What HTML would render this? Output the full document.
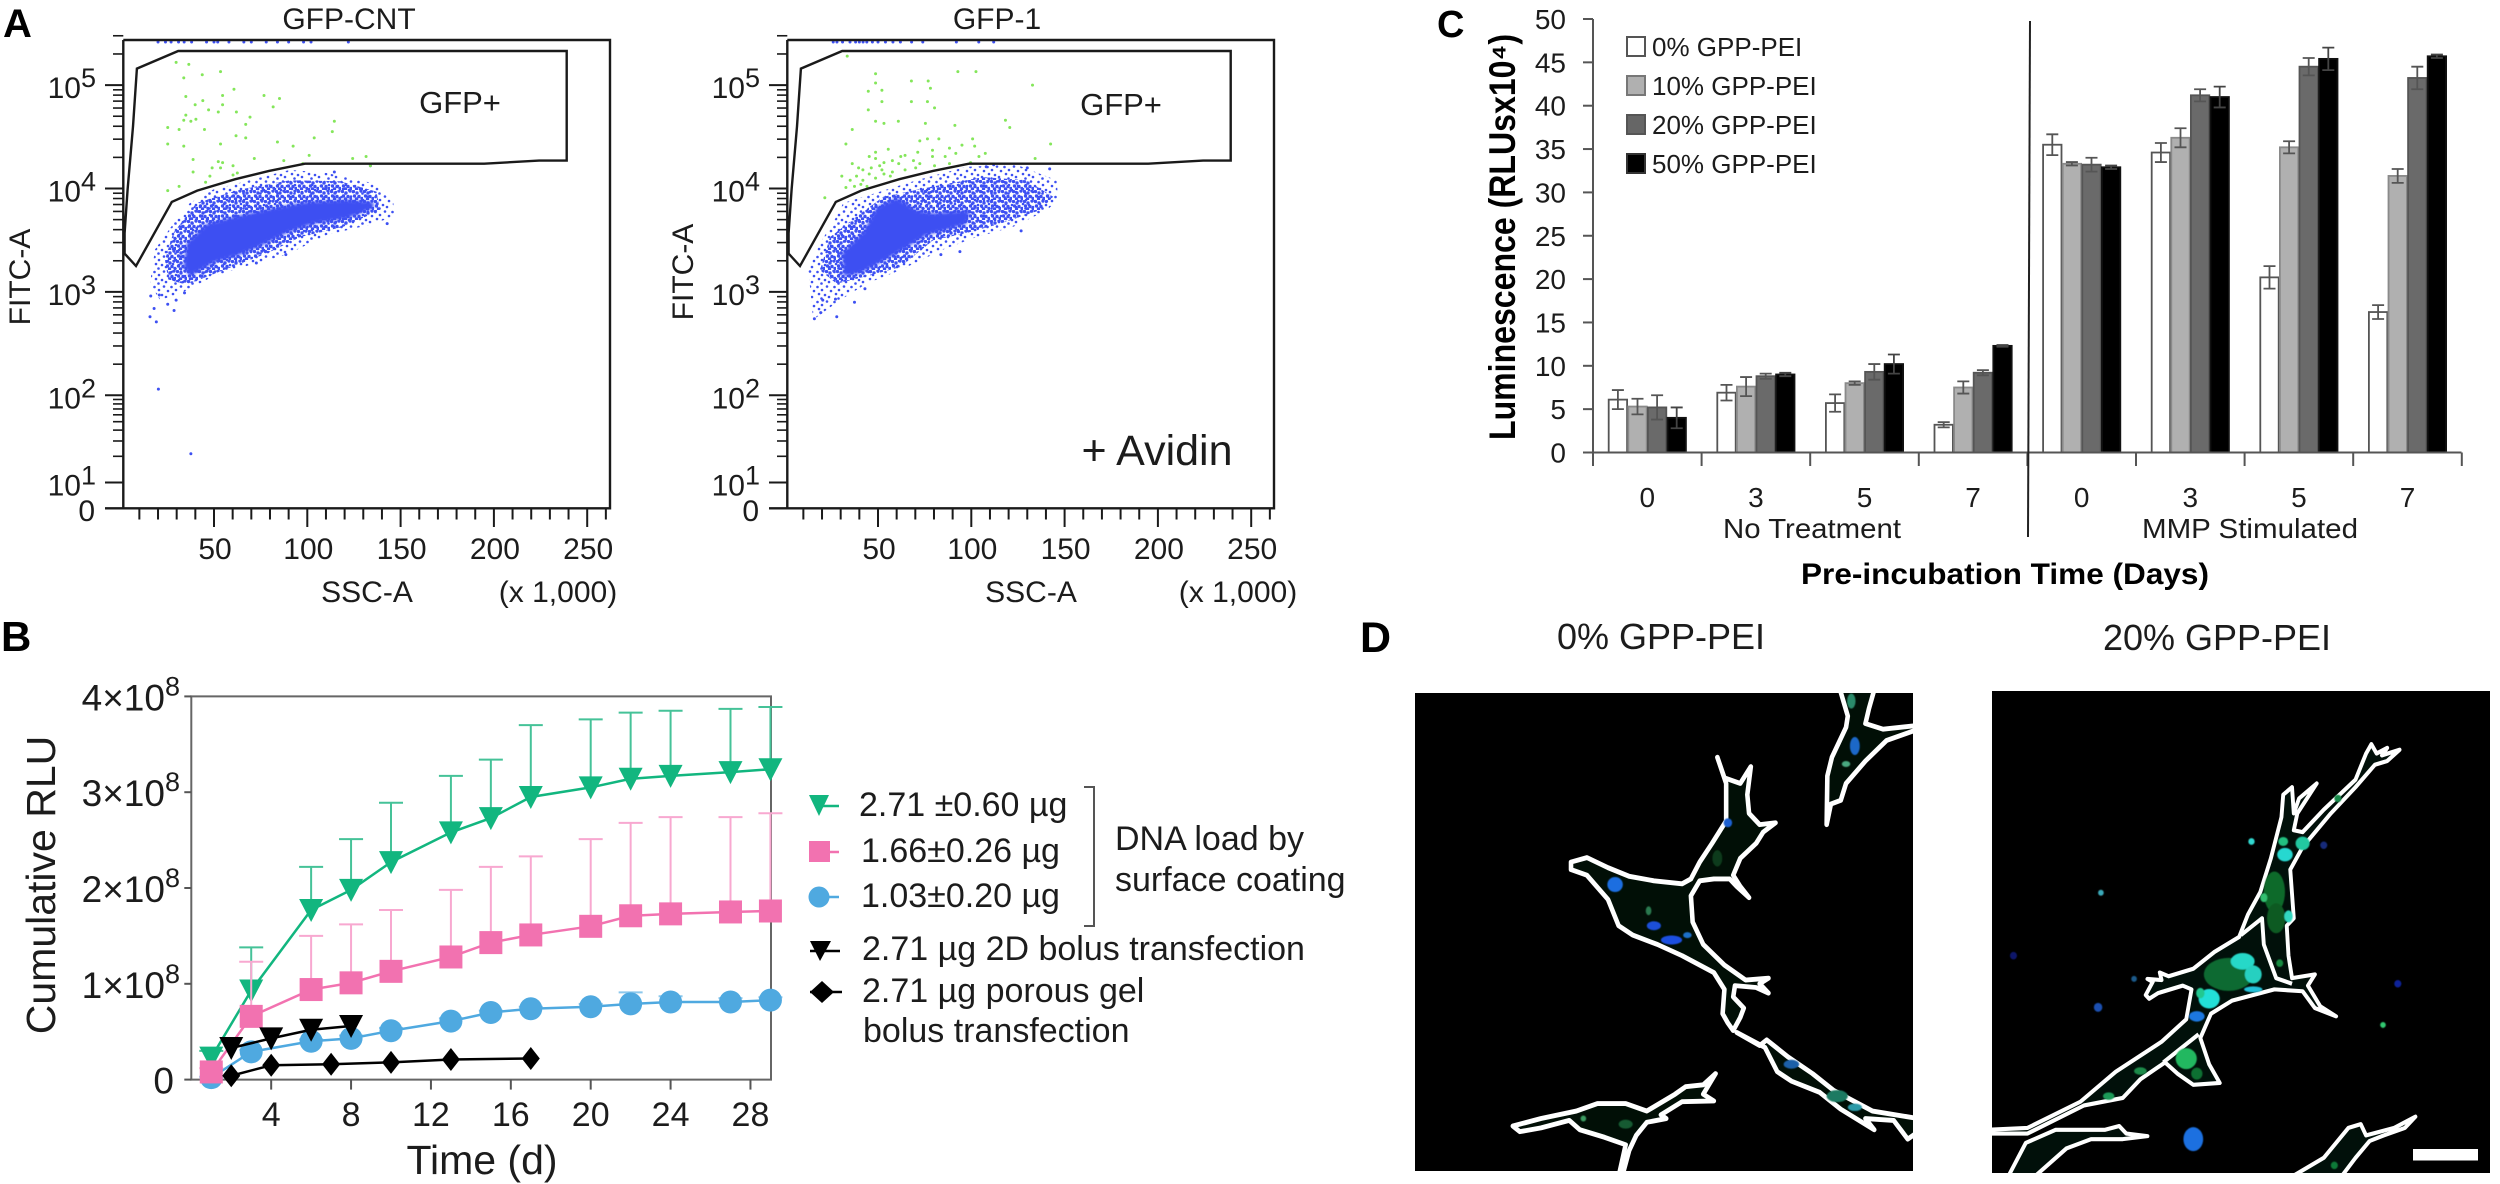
<!DOCTYPE html>
<html lang="en">
<head>
<meta charset="utf-8">
<title>GFP-PEI transfection figure</title>
<style>
html,body{margin:0;padding:0;background:#fff;}
svg{display:block;}
text{font-family:"Liberation Sans",sans-serif;fill:#1c1c1c;}
.bold{font-weight:bold;fill:#000;}
</style>
</head>
<body>
<svg id="fig" xmlns="http://www.w3.org/2000/svg" width="2500" height="1184" viewBox="0 0 2500 1184">
<defs>
<pattern id="speckle" width="17" height="15" patternUnits="userSpaceOnUse">
<circle cx="1.5" cy="2" r="1.3" fill="#3d50f2"/><circle cx="6" cy="5" r="1.3" fill="#3d50f2"/><circle cx="11" cy="1.5" r="1.3" fill="#3d50f2"/><circle cx="15" cy="6" r="1.3" fill="#3d50f2"/><circle cx="3" cy="9" r="1.3" fill="#3d50f2"/><circle cx="9" cy="10" r="1.3" fill="#3d50f2"/><circle cx="13" cy="12" r="1.3" fill="#3d50f2"/><circle cx="5.5" cy="13.5" r="1.3" fill="#3d50f2"/>
</pattern>
<pattern id="speckle-dense" width="11" height="10" patternUnits="userSpaceOnUse">
<circle cx="1.5" cy="1.5" r="1.7" fill="#3d50f2"/><circle cx="5" cy="3" r="1.7" fill="#3d50f2"/><circle cx="9" cy="1" r="1.7" fill="#3d50f2"/><circle cx="2.5" cy="6" r="1.7" fill="#3d50f2"/><circle cx="7" cy="6.5" r="1.7" fill="#3d50f2"/><circle cx="10" cy="8.5" r="1.7" fill="#3d50f2"/><circle cx="4.5" cy="9" r="1.7" fill="#3d50f2"/>
</pattern>
<clipPath id="clip-d1"><rect x="1415" y="693" width="498" height="478"/></clipPath>
<clipPath id="clip-d2"><rect x="1992" y="691" width="498" height="482"/></clipPath>
<filter id="soft" x="-10%" y="-10%" width="120%" height="120%"><feGaussianBlur stdDeviation="1.6"/></filter>
</defs>

<rect width="2500" height="1184" fill="#fff"/>

<text class="bold" x="3" y="37" font-size="40">A</text>
<text class="bold" x="1" y="651" font-size="42">B</text>
<text class="bold" x="1437" y="37" font-size="38">C</text>
<text class="bold" x="1360" y="652" font-size="43">D</text>

<!-- Panel A labels -->
<text x="349" y="29" font-size="30" text-anchor="middle">GFP-CNT</text>
<text x="997" y="29" font-size="30" text-anchor="middle">GFP-1</text>
<text x="460" y="113" font-size="31" text-anchor="middle">GFP+</text>
<text x="1121" y="115" font-size="31" text-anchor="middle">GFP+</text>
<text x="1157" y="465" font-size="43" text-anchor="middle">+ Avidin</text>
<text transform="translate(30,277) rotate(-90)" font-size="30" text-anchor="middle">FITC-A</text>
<text transform="translate(693,272) rotate(-90)" font-size="30" text-anchor="middle">FITC-A</text>
<text x="367" y="602" font-size="30" text-anchor="middle">SSC-A</text>
<text x="558" y="602" font-size="30" text-anchor="middle">(x 1,000)</text>
<text x="1031" y="602" font-size="30" text-anchor="middle">SSC-A</text>
<text x="1238" y="602" font-size="30" text-anchor="middle">(x 1,000)</text>

<g id="flow-left"></g>
<g id="flow-right"></g>

<!-- Panel B -->
<text transform="translate(55,885) rotate(-90)" font-size="41" text-anchor="middle">Cumulative RLU</text>
<text x="482" y="1174" font-size="41" text-anchor="middle">Time (d)</text>
<g id="line-chart"></g>

<g>
<g>
<line x1="820" y1="806" x2="839" y2="806" stroke="#12b67f" stroke-width="2.5"/>
<polygon points="809,795 829,795 819,816" fill="#12b67f"/>
<text x="859" y="816" font-size="34">2.71 ±0.60 µg</text></g>
<g>
<line x1="820" y1="852" x2="839" y2="852" stroke="#f272b0" stroke-width="2.5"/>
<rect x="809" y="841" width="21" height="21" fill="#f272b0"/>
<text x="861" y="862" font-size="34">1.66±0.26 µg</text></g>
<g>
<line x1="820" y1="897" x2="839" y2="897" stroke="#4fa9e0" stroke-width="2.5"/>
<circle cx="819" cy="897" r="10.5" fill="#4fa9e0"/>
<text x="861" y="907" font-size="34">1.03±0.20 µg</text></g>
<g>
<line x1="810" y1="951" x2="840" y2="951" stroke="#000" stroke-width="2.5"/>
<polygon points="810,941 831,941 820,961" fill="#000"/>
<text x="862" y="960" font-size="34">2.71 µg 2D bolus transfection</text></g>
<g>
<line x1="810" y1="992" x2="842" y2="992" stroke="#000" stroke-width="2.5"/>
<polygon points="822,981 834,992 822,1003 810,992" fill="#000"/>
<text x="862" y="1002" font-size="34">2.71 µg porous gel</text>
<text x="863" y="1042" font-size="34">bolus transfection</text></g>
<path d="M1084,787 H1094 V926 H1084" fill="none" stroke="#555" stroke-width="2"/>
<text x="1115" y="850" font-size="34">DNA load by</text>
<text x="1115" y="891" font-size="34">surface coating</text>
</g>

<!-- Panel C -->
<text class="bold" transform="translate(1515,237) rotate(-90)" font-size="37" text-anchor="middle" textLength="406" lengthAdjust="spacingAndGlyphs">Luminescence (RLUsx10⁴)</text>
<text class="bold" x="2005" y="584" font-size="30" text-anchor="middle" textLength="408" lengthAdjust="spacingAndGlyphs">Pre-incubation Time (Days)</text>
<text x="1812" y="538" font-size="28" text-anchor="middle" textLength="178" lengthAdjust="spacingAndGlyphs">No Treatment</text>
<text x="2250" y="538" font-size="28" text-anchor="middle" textLength="216" lengthAdjust="spacingAndGlyphs">MMP Stimulated</text>
<g id="bar-chart"></g>
<g>
<g><rect x="1627" y="37" width="18" height="19" fill="#fff" stroke="#555" stroke-width="2"/><text x="1652" y="56" font-size="26">0% GPP-PEI</text></g>
<g><rect x="1627" y="76" width="18" height="19" fill="#b0b0b0" stroke="#777" stroke-width="2"/><text x="1652" y="95" font-size="26">10% GPP-PEI</text></g>
<g><rect x="1627" y="115" width="18" height="19" fill="#666" stroke="#555" stroke-width="2"/><text x="1652" y="134" font-size="26">20% GPP-PEI</text></g>
<g><rect x="1627" y="154" width="18" height="19" fill="#000" stroke="#333" stroke-width="2"/><text x="1652" y="173" font-size="26">50% GPP-PEI</text></g>
</g>

<!-- Panel D -->
<text x="1661" y="649" font-size="36" text-anchor="middle">0% GPP-PEI</text>
<text x="2217" y="650" font-size="36" text-anchor="middle">20% GPP-PEI</text>

<rect x="1415" y="693" width="498" height="478" fill="#000"/>
<g clip-path="url(#clip-d1)">
<g transform="translate(1400,600) scale(.3526,.3744)" fill="#010f06" stroke="#fff" stroke-width="13" stroke-linejoin="round">
<path d="M485,700 L530,688 590,715 650,738 720,750 800,758 825,745 850,700 885,650 925,590 925,490 900,420 920,475 965,490 995,445 985,520 990,570 1020,600 1065,595 1030,620 1010,650 965,690 945,735 965,765 990,795 955,765 935,745 890,745 850,750 825,790 830,860 860,920 920,975 980,1015 1045,1010 1020,1025 1045,1050 1010,1035 950,1030 945,1060 975,1090 965,1115 945,1150 930,1130 915,1105 920,1040 890,995 800,950 730,920 660,895 620,870 590,800 530,735 485,720Z"/>
<path d="M955,1155 L1020,1190 1040,1175 1100,1220 1170,1265 1230,1310 1340,1365 1470,1385 1470,1420 1440,1440 1400,1390 1320,1385 1345,1415 1250,1360 1190,1315 1110,1285 1070,1260 1035,1195Z"/>
<path d="M320,1405 L400,1385 500,1365 560,1345 640,1345 700,1365 780,1320 810,1300 860,1295 895,1265 860,1320 890,1338 800,1340 740,1375 755,1385 700,1395 670,1430 650,1470 630,1540 620,1540 640,1455 580,1435 510,1415 480,1390 400,1410 340,1420Z"/>
<path d="M1248,240 L1270,310 1265,340 1225,420 1212,470 1210,600 1222,545 1250,535 1265,490 1320,430 1380,375 1470,345 1470,335 1370,345 1320,330 1330,290 1345,240Z"/>
</g>
<g transform="translate(1400,600) scale(.3526,.3744)" filter="url(#soft)">
<ellipse cx="610" cy="760" rx="22" ry="20" fill="#1a6ee0"/><ellipse cx="720" cy="870" rx="20" ry="12" fill="#1a50d8"/><ellipse cx="770" cy="908" rx="30" ry="12" fill="#1c50e0"/><ellipse cx="815" cy="895" rx="12" ry="8" fill="#1c70c8"/><ellipse cx="705" cy="830" rx="8" ry="12" fill="#2a7a50"/><ellipse cx="930" cy="595" rx="12" ry="12" fill="#1a60d0"/><ellipse cx="900" cy="690" rx="14" ry="22" fill="#0b3a1a"/><ellipse cx="1290" cy="390" rx="14" ry="24" fill="#1a68c8"/><ellipse cx="1280" cy="270" rx="12" ry="20" fill="#2a8a6a"/><ellipse cx="1265" cy="438" rx="12" ry="8" fill="#4aa880"/><ellipse cx="1110" cy="1240" rx="22" ry="12" fill="#1a60a8"/><ellipse cx="1240" cy="1325" rx="30" ry="16" fill="#1f7a62"/><ellipse cx="1290" cy="1355" rx="20" ry="10" fill="#2a9aa8"/><ellipse cx="640" cy="1400" rx="20" ry="12" fill="#125a30"/><ellipse cx="520" cy="1385" rx="8" ry="8" fill="#3a9a60"/>
</g>
</g>

<rect x="1992" y="691" width="498" height="482" fill="#000"/>
<g clip-path="url(#clip-d2)">
<g transform="translate(1950,600) scale(.3526,.3744)" stroke="#fff" stroke-width="11" stroke-linejoin="round" fill="#01100a">
<path d="M555,1055 L575,1020 560,1012 600,1015 595,995 620,1005 690,985 750,940 820,900 845,840 880,780 910,690 940,580 945,520 970,500 975,570 990,530 1040,490 985,570 975,615 1000,620 1060,560 1150,480 1180,410 1195,385 1210,410 1240,395 1225,415 1275,400 1240,430 1205,440 1150,500 1080,570 1000,660 965,720 975,850 955,870 960,950 970,1010 1035,1000 1015,1030 1050,1085 1095,1112 1035,1090 1000,1045 920,1040 800,1070 740,1105 710,1170 735,1240 765,1290 690,1295 645,1265 610,1235 540,1280 490,1330 380,1350 220,1425 105,1425 105,1415 220,1410 370,1340 470,1260 600,1180 670,1120 685,1040 660,1030 590,1050 565,1065Z"/>
<path fill="none" d="M825,895 L885,850 890,920 925,1010 970,1025 M605,1235 L705,1160"/>
<path d="M165,1540 L215,1450 300,1415 440,1415 480,1405 500,1425 560,1432 490,1440 400,1440 330,1465 240,1540Z"/>
<path d="M970,1540 L1060,1490 1130,1410 1165,1400 1180,1430 1260,1410 1320,1380 1290,1410 1230,1430 1190,1445 1150,1490 1110,1540Z"/>
</g>
<g transform="translate(1950,600) scale(.3526,.3744)" filter="url(#soft)">
<ellipse cx="950" cy="680" rx="22" ry="18" fill="#28d8d0"/><ellipse cx="1000" cy="650" rx="20" ry="18" fill="#22c8a0"/><ellipse cx="945" cy="645" rx="14" ry="12" fill="#22c080"/><ellipse cx="920" cy="780" rx="30" ry="55" fill="#0e6a2a"/><ellipse cx="925" cy="850" rx="26" ry="40" fill="#0a5a22"/><ellipse cx="960" cy="845" rx="12" ry="16" fill="#30d8c0"/><ellipse cx="890" cy="795" rx="10" ry="12" fill="#30c070"/><ellipse cx="790" cy="1000" rx="70" ry="44" fill="#0d6a30"/><ellipse cx="830" cy="965" rx="34" ry="22" fill="#26d8c8"/><ellipse cx="860" cy="1000" rx="24" ry="24" fill="#26d0c0"/><ellipse cx="735" cy="1065" rx="30" ry="26" fill="#20e0d8"/><ellipse cx="710" cy="1050" rx="12" ry="14" fill="#22c890"/><ellipse cx="860" cy="1040" rx="26" ry="8" fill="#24c0d8"/><ellipse cx="700" cy="1112" rx="22" ry="14" fill="#1a78e0"/><ellipse cx="670" cy="1225" rx="30" ry="28" fill="#22b860"/><ellipse cx="700" cy="1265" rx="16" ry="16" fill="#0e7030"/><ellipse cx="540" cy="1258" rx="18" ry="10" fill="#1a8a48"/><ellipse cx="450" cy="1325" rx="16" ry="10" fill="#1a9a58"/><ellipse cx="690" cy="1440" rx="28" ry="32" fill="#1a70e0"/><circle cx="855" cy="645" r="9" fill="#30d8d0"/><circle cx="428" cy="782" r="8" fill="#3aa8b8"/><circle cx="420" cy="1088" r="12" fill="#1a50b0"/><circle cx="1228" cy="1135" r="8" fill="#30c870"/><circle cx="1270" cy="1025" r="10" fill="#10209a"/><circle cx="1060" cy="655" r="10" fill="#142c7a"/><circle cx="180" cy="950" r="10" fill="#10186a"/><circle cx="522" cy="1012" r="8" fill="#1a5a8a"/><circle cx="1100" cy="530" r="10" fill="#148a48"/><circle cx="1090" cy="1510" r="10" fill="#0e7a38"/><circle cx="935" cy="970" r="10" fill="#148a40"/>
</g>
</g>
<rect x="2413" y="1149" width="65" height="11.5" fill="#fff"/>
</svg>

<script>
/* ---------- Panel A data: SSC-A (x 1,000) and log10 FITC-A ---------- */
const flowXTicks = [50, 100, 150, 200, 250];
const flowDecades = [5, 4, 3, 2, 1];
const gateSsc = [2.1, 8.2, 27.4, 41, 61.4, 79.5, 98.7, 194.8, 224.2, 239, 239, 30.8, 8.7, 6.6, 3.7, 2.1];
const gateLog = [3.37, 3.25, 3.87, 3.98, 4.09, 4.17, 4.24, 4.24, 4.27, 4.27, 5.33, 5.33, 5.16, 4.6, 3.99, 3.57];

const cntGreenSsc = [29.7,36.5,43.7,53.5,33.8,60.7,54.6,34.9,76.8,85.1,44,39.9,81.7,54.6,47.1,52.3,62,34.9,69.3,33.8,37.6,40.3,67,25.2,31.3,44.9,114.5,113.4,61.8,103.7,67,25.2,33.8,53.5,84,92.4,101,124.3,131.5,71.6,38.8,52.3,54.6,87.4,60.2,49,53.5,38.8,62.5,47.8,45.5,31.3,25.2,60.2,97.6,133.8];
const cntGreenLog = [5.22,5.2,5.1,5.13,5.07,4.96,4.9,4.89,4.9,4.87,4.85,4.81,4.79,4.81,4.76,4.74,4.74,4.71,4.69,4.66,4.65,4.67,4.62,4.59,4.57,4.57,4.65,4.55,4.51,4.49,4.49,4.43,4.41,4.43,4.45,4.41,4.32,4.29,4.31,4.29,4.28,4.26,4.25,4.27,4.22,4.2,4.2,4.16,4.15,4.12,4.06,4.02,3.98,4.13,4.24,4.22];
const cntOuterSsc = [18.4,28.2,37.1,49.6,69.3,90.7,110.4,135.4,146.1,147,133.6,110.4,88.9,72.9,49.6,33.6,21.1,15.7];
const cntOuterLog = [3.41,3.66,3.86,3.99,4.08,4.18,4.15,4.05,3.86,3.73,3.65,3.55,3.36,3.28,3.15,3,2.92,3.08];
const cntMidSsc = [23.7,28.2,40.7,63.9,90.7,117.5,137.1,138.9,119.3,96.1,78.2,55,35.3,25.5];
const cntMidLog = [3.31,3.57,3.86,3.99,4.08,4.07,3.97,3.79,3.63,3.53,3.37,3.21,3.07,3.12];
const cntCoreSsc = [33.6,35.3,46.1,63.9,81.8,99.6,121.1,135.4,135.4,121.1,103.2,88.9,78.2,63.9,49.6,37.1];
const cntCoreLog = [3.24,3.47,3.66,3.74,3.81,3.87,3.89,3.87,3.81,3.71,3.66,3.57,3.47,3.36,3.28,3.15];
const cntBlueSsc = [20.2,37.6,15.7,19.1,17.9,28.6,25.2,16.1,29.7,34.2,20.7,88.5,72.7,142.8,114.5,133.8];
const cntBlueLog = [2.06,1.33,2.76,2.71,2.84,2.82,2.88,2.96,2.92,2.99,2.97,3.36,3.28,3.66,4.16,4.22];
const cntTopSsc = [20,24,27,31,34,38,46,50,52,58,66,70,78,84,90,98,102,122];

const oneGreenSsc = [33.5,48.7,92.8,102.5,48.7,67.9,76.9,78.1,132.8,52.1,44.8,52.1,67.9,76.5,80.3,44.8,48.7,53.2,60.9,75.4,91.2,118.3,120.6,36.2,32.8,72.4,76.5,82.6,100.7,95,101.8,88.3,55.5,48.7,45.3,62.2,64.5,71.3,79.2,91.7,107.5,104.1,142.5,134.2,36.2,39.6,41.9,46.4,53.2,57.7,61.1,69,72.4,79.2,86,48.7,52.1,53.2,45.3,38.5,30.6,35.1,41.9,48.7,57.7,64.5,70.2,80.3,88.3,99.6,21.5,44.1,40.8,37.4,32.8,50.9,56.6];
const oneGreenLog = [5.28,5.11,5.13,5.13,5.02,5.04,5.04,4.97,5,4.95,4.94,4.84,4.84,4.84,4.78,4.76,4.65,4.63,4.65,4.63,4.61,4.66,4.59,4.57,4.43,4.46,4.48,4.48,4.48,4.42,4.41,4.39,4.38,4.35,4.31,4.31,4.32,4.35,4.37,4.34,4.34,4.31,4.43,4.29,4.24,4.2,4.18,4.2,4.25,4.27,4.24,4.27,4.24,4.31,4.31,4.29,4.18,4.14,4.14,4.12,4.12,4.08,4.08,4.1,4.16,4.18,4.2,4.22,4.24,4.25,3.91,4.02,4.04,4.02,4.01,4.22,4.12];
const oneOuterSsc = [12.7,18.9,27.8,31.4,47.5,70.7,97.5,124.3,145.7,146.6,140.4,122.5,101.1,85,61.8,43.9,29.6,15.3];
const oneOuterLog = [3.21,3.47,3.73,3.86,3.95,4.08,4.21,4.23,4.08,3.89,3.79,3.63,3.52,3.41,3.21,3.08,2.92,2.73];
const oneMidSsc = [18.9,24.3,38.6,52.9,79.6,106.4,129.6,143.9,136.8,115.4,97.5,79.6,61.8,43.9,27.8];
const oneMidLog = [3.21,3.53,3.73,3.92,4.02,4.11,4.08,3.92,3.79,3.66,3.57,3.5,3.24,3.15,3.08];
const oneCoreSsc = [31.4,30.5,42.1,49.3,60,70.7,79.6,99.3,97.5,86.8,76.1,63.6,51,40.3,31.4];
const oneCoreLog = [3.24,3.37,3.58,3.82,3.91,3.79,3.76,3.79,3.66,3.6,3.55,3.41,3.28,3.18,3.15];
const oneBlueSsc = [15.9,19.3,27.9,37.4,20.4,27.2,43,93.9,83.7,126.7,108,112,130,142];
const oneBlueLog = [2.74,2.8,2.76,2.9,2.92,2.93,3.03,3.39,3.36,3.59,4.21,4.23,4.2,4.19];
const oneTopSsc = [26,28,31,35,38,40,42,44,47,50,54,58,62,68,74,92,104,112];

/* ---------- Panel B data: day and RLU (x 10^8) ---------- */
const coatedDays = [1,3,6,8,10,13,15,17,20,22,24,27,29];
const greenValues = [0.23,0.93,1.77,1.98,2.27,2.58,2.73,2.95,3.05,3.14,3.17,3.21,3.24];
const greenUpper = [0.3,1.38,2.22,2.51,2.89,3.17,3.34,3.7,3.76,3.83,3.85,3.87,3.89];
const pinkValues = [0.08,0.66,0.94,1.01,1.13,1.28,1.43,1.51,1.6,1.71,1.73,1.75,1.76];
const pinkUpper = [0.12,1.23,1.5,1.62,1.77,1.98,2.22,2.33,2.51,2.68,2.74,2.74,2.78];
const blueValues = [0.02,0.29,0.4,0.43,0.51,0.61,0.7,0.74,0.76,0.79,0.81,0.81,0.83];
const blueUpper = [0.03,0.31,0.42,0.46,0.54,0.64,0.72,0.76,0.79,0.91,0.87,0.85,0.86];
const bolusDays = [2,4,6,8];
const bolusValues = [0.33,0.43,0.52,0.56];
const gelDays = [2,4,7,10,13,17];
const gelValues = [0.04,0.15,0.16,0.18,0.21,0.22];
const lineXTicks = [4,8,12,16,20,24,28];
const lineYTicks = [0,1,2,3,4];

/* ---------- Panel C data: luminescence (RLU x 10^4) ---------- */
const dayLabels = ['0','3','5','7','0','3','5','7'];
const barYTicks = [0,5,10,15,20,25,30,35,40,45,50];
const gpp0 = [6.1,6.9,5.7,3.2,35.5,34.6,20.2,16.2];
const gpp10 = [5.3,7.6,8.0,7.5,33.3,36.3,35.2,31.9];
const gpp20 = [5.2,8.8,9.3,9.2,33.2,41.2,44.5,43.2];
const gpp50 = [4.0,9.0,10.2,12.3,32.9,41.0,45.4,45.7];
const gpp0Upper = [7.2,7.8,6.7,3.5,36.7,35.7,21.5,17.0];
const gpp10Upper = [6.2,8.7,8.2,8.2,33.5,37.4,35.9,32.7];
const gpp20Upper = [6.6,9.1,10.2,9.5,34.0,41.9,45.5,44.5];
const gpp50Upper = [5.2,9.2,11.3,12.4,33.1,42.2,46.7,45.9];

/* ---------- helpers ---------- */
const NS = 'http://www.w3.org/2000/svg';
function mk(parent, tag, attrs, text) {
  const el = document.createElementNS(NS, tag);
  for (const k in attrs) el.setAttribute(k, attrs[k]);
  if (text !== undefined) el.textContent = text;
  parent.appendChild(el);
  return el;
}

/* ---------- Panel A ---------- */
function flowY(lg) {
  if (lg >= 2) return 291.9 - (lg - 3) * 103.4;
  if (lg >= 1) return 482.5 - (lg - 1) * 87;
  return 508.3 - lg * 25.8;
}
function drawFlow(host, off, outerS, outerL, midS, midL, coreS, coreL, blueS, blueL, greenS, greenL, topS) {
  const sx = v => 120.7 + off + v * 1.866;
  const pts = (xs, ys) => xs.map((x, i) => sx(x).toFixed(1) + ',' + flowY(ys[i]).toFixed(1)).join(' ');

  const outer = mk(host, 'polygon', {points: pts(outerS, outerL), fill: 'url(#speckle)'});
  
  
  const mid = mk(host, 'polygon', {points: pts(midS, midL), fill: 'url(#speckle-dense)'});
  
  
  const core = mk(host, 'polygon', {points: pts(coreS, coreL), fill: '#3d50f2', filter: 'url(#soft)'});
  
  

  blueS.forEach((s, i) => {
    const d = mk(host, 'circle', {cx: sx(s), cy: flowY(blueL[i]), r: 1.5, fill: '#3d50f2'});
    
    
  });
  topS.forEach(s => {
    const d = mk(host, 'circle', {cx: sx(s), cy: 42, r: 1.5, fill: '#3d50f2'});
    
    
  });
  greenS.forEach((s, i) => {
    const d = mk(host, 'circle', {cx: sx(s), cy: flowY(greenL[i]), r: 1.5, fill: '#84e65a'});
    
    
  });

  const gate = mk(host, 'polygon', {points: pts(gateSsc, gateLog), fill: 'none', stroke: '#1a1a1a', 'stroke-width': 2.4});
  
  

  const frame = mk(host, 'path', {d: `M${123.3 + off},40 H${610 + off} V508.3 H${105 + off} M${123.3 + off},508.3 V40`, fill: 'none', stroke: '#1a1a1a', 'stroke-width': 2.4});
  
  

  for (let v = 10; v <= 260; v += 10) {
    const major = v % 50 === 0;
    const t = mk(host, 'line', {x1: sx(v), x2: sx(v), y1: 508.3, y2: major ? 527 : 519.5, stroke: '#1a1a1a', 'stroke-width': 2});
    
    
  }
  flowXTicks.forEach(v => {
    const t = mk(host, 'text', {x: sx(v) + 1, y: 559, 'font-size': 30, 'text-anchor': 'middle'}, String(v));
    
    
  });
  flowDecades.forEach(d => {
    const y = flowY(d);
    const tick = mk(host, 'line', {x1: 105 + off, x2: 123.3 + off, y1: y, y2: y, stroke: '#1a1a1a', 'stroke-width': 2});
    
    
    const n = d === 5 ? 3 : 9;
    for (let m = 2; m <= n; m++) {
      const mt = mk(host, 'line', {x1: 113 + off, x2: 123.3 + off, y1: flowY(d + Math.log10(m)), y2: flowY(d + Math.log10(m)), stroke: '#1a1a1a', 'stroke-width': 1.6});
      
      
    }
    const lab = mk(host, 'text', {x: 96 + off, y: y + 13, 'font-size': 30, 'text-anchor': 'end'});
    
    
    mk(lab, 'tspan', {}, '10');
    mk(lab, 'tspan', {dy: -11, 'font-size': 27}, String(d));
  });
  const zero = mk(host, 'text', {x: 95 + off, y: 521, 'font-size': 30, 'text-anchor': 'end'}, '0');
  
  
}
drawFlow(document.getElementById('flow-left'), 0, cntOuterSsc, cntOuterLog, cntMidSsc, cntMidLog, cntCoreSsc, cntCoreLog, cntBlueSsc, cntBlueLog, cntGreenSsc, cntGreenLog, cntTopSsc);
drawFlow(document.getElementById('flow-right'), 664, oneOuterSsc, oneOuterLog, oneMidSsc, oneMidLog, oneCoreSsc, oneCoreLog, oneBlueSsc, oneBlueLog, oneGreenSsc, oneGreenLog, oneTopSsc);

/* ---------- Panel B ---------- */
const lineHost = document.getElementById('line-chart');
const lx = d => 191.3 + d * 19.97;
const ly = v => 1079.6 - v * 95.8;

const lineAxes = mk(lineHost, 'path', {d: `M${lx(0)},${ly(4)} H771 V${ly(0)} H${lx(0)} Z`, fill: 'none', stroke: '#666', 'stroke-width': 2});


lineYTicks.forEach(v => {
  const t = mk(lineHost, 'line', {x1: lx(0) - 7, x2: lx(0), y1: ly(v), y2: ly(v), stroke: '#555', 'stroke-width': 2});
  
  
  const lab = mk(lineHost, 'text', {x: v === 0 ? 174 : 180, y: ly(v) + 14, 'font-size': 37, 'text-anchor': 'end'});
  
  
  if (v === 0) { mk(lab, 'tspan', {}, '0'); }
  else { mk(lab, 'tspan', {}, v + '×10'); mk(lab, 'tspan', {dy: -15, 'font-size': 27}, '8'); }
});
lineXTicks.forEach(d => {
  const t = mk(lineHost, 'line', {x1: lx(d), x2: lx(d), y1: ly(0), y2: ly(0) + 10, stroke: '#555', 'stroke-width': 2});
  
  
  const lab = mk(lineHost, 'text', {x: lx(d), y: 1126, 'font-size': 34, 'text-anchor': 'middle'}, String(d));
  
  
});

function marker(g, kind, x, y, color) {
  let m;
  if (kind === 'tri') m = mk(g, 'polygon', {points: `${x - 12},${y - 11} ${x + 12},${y - 11} ${x},${y + 12}`, fill: color});
  else if (kind === 'square') m = mk(g, 'rect', {x: x - 11.5, y: y - 11.5, width: 23, height: 23, fill: color});
  else if (kind === 'circle') m = mk(g, 'circle', {cx: x, cy: y, r: 11.5, fill: color});
  else m = mk(g, 'polygon', {points: `${x},${y - 11.5} ${x + 9},${y} ${x},${y + 11.5} ${x - 9},${y}`, fill: color});
  
  
}
function drawSeries(name, days, vals, upper, kind, color, errColor) {
  const g = mk(lineHost, 'g', {});
  
  
  if (upper) days.forEach((d, i) => {
    const e = mk(g, 'path', {d: `M${lx(d)},${ly(vals[i])} V${ly(upper[i])} M${lx(d) - 12},${ly(upper[i])} H${lx(d) + 12}`, fill: 'none', stroke: errColor, 'stroke-width': 2});
    
    
  });
  const l = mk(g, 'polyline', {points: days.map((d, i) => lx(d) + ',' + ly(vals[i])).join(' '), fill: 'none', stroke: color, 'stroke-width': 2.5});
  
  
  days.forEach((d, i) => marker(g, kind, lx(d), ly(vals[i]), color));
}
drawSeries('series-1-03-ug', coatedDays, blueValues, blueUpper, 'circle', '#4fa9e0', '#8cc8ec');
drawSeries('series-2-71-ug', coatedDays, greenValues, greenUpper, 'tri', '#12b67f', '#45c298');
drawSeries('series-1-66-ug', coatedDays, pinkValues, pinkUpper, 'square', '#f272b0', '#f8a8d0');
drawSeries('series-2d-bolus', bolusDays, bolusValues, null, 'tri', '#000', '#000');
drawSeries('series-porous-gel-bolus', gelDays, gelValues, null, 'diamond', '#000', '#000');

/* ---------- Panel C ---------- */
const barHost = document.getElementById('bar-chart');
const groupW = 108.6;
const bx = i => 1593 + i * groupW;
const by = v => 452.5 - v * 8.67;
const barSeries = [gpp0, gpp10, gpp20, gpp50];
const barUppers = [gpp0Upper, gpp10Upper, gpp20Upper, gpp50Upper];
const barFills = ['#fff', '#b0b0b0', '#6a6a6a', '#000'];
const barStrokes = ['#555', '#8a8a8a', '#555', '#111'];

barSeries.forEach((vals, s) => {
  vals.forEach((v, i) => {
    const cx = bx(i) + groupW / 2 + (s - 1.5) * 19.6;
    const r = mk(barHost, 'rect', {x: cx - 9.2, y: by(v), width: 18.4, height: v * 8.67, fill: barFills[s], stroke: barStrokes[s], 'stroke-width': 1.8});
    
    
    const up = barUppers[s][i];
    const lo = 2 * v - up;
    const e = mk(barHost, 'path', {d: `M${cx},${by(lo)} V${by(up)} M${cx - 6},${by(up)} H${cx + 6} M${cx - 6},${by(lo)} H${cx + 6}`, fill: 'none', stroke: s === 3 ? '#444' : '#555', 'stroke-width': 1.8});
    
    
  });
});
const barAxis = mk(barHost, 'path', {d: `M1593,19 V452.5 H2461.5`, fill: 'none', stroke: '#555', 'stroke-width': 2});


barYTicks.forEach(v => {
  const t = mk(barHost, 'line', {x1: 1583, x2: 1593, y1: by(v), y2: by(v), stroke: '#555', 'stroke-width': 2});
  
  
  const lab = mk(barHost, 'text', {x: 1566, y: by(v) + 10, 'font-size': 28, 'text-anchor': 'end'}, String(v));
  
  
});
for (let i = 0; i <= dayLabels.length; i++) {
  const t = mk(barHost, 'line', {x1: bx(i), x2: bx(i), y1: 452.5, y2: 466, stroke: '#555', 'stroke-width': 2});
  
  
}
dayLabels.forEach((d, i) => {
  const lab = mk(barHost, 'text', {x: bx(i) + groupW / 2, y: 507, 'font-size': 28, 'text-anchor': 'middle'}, d);
  
  
});
const divider = mk(barHost, 'line', {x1: 2030, x2: 2028, y1: 21, y2: 537, stroke: '#222', 'stroke-width': 2});


</script>
</body>
</html>
